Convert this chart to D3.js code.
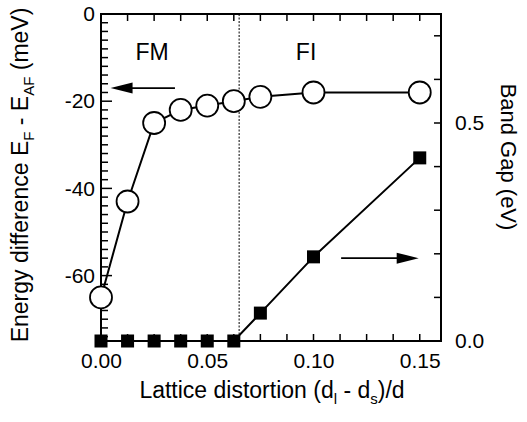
<!DOCTYPE html>
<html>
<head>
<meta charset="utf-8">
<script src="https://cdn.jsdelivr.net/npm/d3@7"></script>
<style>
  body { margin: 0; background: #fff; }
  text { font-family: "Liberation Sans", Arial, sans-serif; fill: #000; }
</style>
</head>
<body>
<div id="plot"></div>
<script>
// lattice distortion values
let distortion = [0, 0.0125, 0.025, 0.0375, 0.05, 0.0625, 0.075, 0.1, 0.15];
// E_F - E_AF (meV), open circles
let energyDiff = [-65, -43, -25, -22, -21, -20, -19, -18, -18];
// band gap (eV), filled squares
let bandGap = [0, 0, 0, 0, 0, 0, 0.064, 0.193, 0.42];

let xTicks = [0, 0.05, 0.10, 0.15];
let yLeftTicks = [0, -20, -40, -60];
let yRightTicks = [0, 0.5];
let boundary = 0.065;

let svgWidth = 527, svgHeight = 422;
let margin = { top: 14, right: 86, bottom: 81, left: 101 };
let width = svgWidth - margin.left - margin.right;
let height = svgHeight - margin.top - margin.bottom;

let x = d3.scaleLinear().domain([0, 0.16]).range([0, width]);
let yL = d3.scaleLinear().domain([-75, 0]).range([height, 0]);
let yR = d3.scaleLinear().domain([0, 0.75]).range([height, 0]);

let svg = d3.select('#plot')
  .append('svg')
    .attr('width', svgWidth)
    .attr('height', svgHeight)
  .append('g')
    .attr('transform', `translate(${margin.left},${margin.top})`);

// plain hyphen for negatives, like the original
let hyphen = f => (d => f(d).replace('\u2212', '-'));

// ticks (all pointing inward)
let tickLen = 7;
let minorX = d3.range(0, 0.16 + 1e-9, 0.0125);
let minorL = d3.range(-74, 0.001, 2);
let minorR = d3.range(0, 0.75, 0.1);

let axX = d3.axisBottom(x).tickValues(xTicks).tickFormat(d3.format('.2f')).tickSize(0).tickPadding(12);
let gx = svg.append('g').attr('transform', `translate(0,${height})`).call(axX);
gx.select('.domain').remove();
gx.selectAll('text').style('font-size', '21px');

let axL = d3.axisLeft(yL).tickValues(yLeftTicks).tickFormat(hyphen(d3.format('d'))).tickSize(0).tickPadding(6);
let gl = svg.append('g').call(axL);
gl.select('.domain').remove();
gl.selectAll('text').style('font-size', '21px');

let axR = d3.axisRight(yR).tickValues(yRightTicks).tickFormat(d3.format('.1f')).tickSize(0).tickPadding(14);
let gr = svg.append('g').attr('transform', `translate(${width},0)`).call(axR);
gr.select('.domain').remove();
gr.selectAll('text').style('font-size', '21px');

let ticks = svg.append('g').attr('stroke', '#000').attr('stroke-width', 1.5);
minorX.forEach(function(v) {
  ticks.append('line').attr('x1', x(v)).attr('x2', x(v)).attr('y1', height).attr('y2', height - tickLen);
  ticks.append('line').attr('x1', x(v)).attr('x2', x(v)).attr('y1', 0).attr('y2', tickLen);
});
minorL.forEach(function(v) {
  let len = (v % 20 === 0) ? 11 : tickLen;
  ticks.append('line').attr('x1', 0).attr('x2', len).attr('y1', yL(v)).attr('y2', yL(v));
});
minorR.forEach(function(v) {
  ticks.append('line').attr('x1', width).attr('x2', width - tickLen).attr('y1', yR(v)).attr('y2', yR(v));
});

// frame
svg.append('rect')
  .attr('width', width).attr('height', height)
  .attr('fill', 'none').attr('stroke', '#000').attr('stroke-width', 2);

// phase boundary
svg.append('line')
  .attr('x1', x(boundary)).attr('x2', x(boundary))
  .attr('y1', 0).attr('y2', height)
  .attr('stroke', '#000').attr('stroke-width', 1)
  .attr('stroke-dasharray', '2,1.5');

let energyData = distortion.map((d, i) => ({ x: d, y: energyDiff[i] }));
let gapData = distortion.map((d, i) => ({ x: d, y: bandGap[i] }));

// band gap line + squares
svg.append('path')
  .datum(gapData)
  .attr('fill', 'none').attr('stroke', '#000').attr('stroke-width', 2)
  .attr('d', d3.line().x(d => x(d.x)).y(d => yR(d.y)));

svg.selectAll('rect.sq')
  .data(gapData)
  .enter()
    .append('rect')
    .attr('class', 'sq')
    .attr('x', d => x(d.x) - 6.5)
    .attr('y', d => yR(d.y) - 6.5)
    .attr('width', 13).attr('height', 13)
    .attr('fill', '#000');

// energy difference line + circles
svg.append('path')
  .datum(energyData)
  .attr('fill', 'none').attr('stroke', '#000').attr('stroke-width', 2)
  .attr('d', d3.line().x(d => x(d.x)).y(d => yL(d.y)));

svg.selectAll('circle')
  .data(energyData)
  .enter()
    .append('circle')
    .attr('r', 11)
    .attr('cx', d => x(d.x))
    .attr('cy', d => yL(d.y))
    .attr('fill', '#fff').attr('stroke', '#000').attr('stroke-width', 1.8);

// arrows
function arrow(x1, x2, yy) {
  let dir = x2 > x1 ? 1 : -1;
  svg.append('line')
    .attr('x1', x1).attr('x2', x2 - dir * 18).attr('y1', yy).attr('y2', yy)
    .attr('stroke', '#000').attr('stroke-width', 1.8);
  svg.append('path')
    .attr('d', `M${x2},${yy} L${x2 - dir * 22},${yy - 5.5} L${x2 - dir * 22},${yy + 5.5} Z`)
    .attr('fill', '#000');
}
arrow(x(0.0348), x(0.0045), yL(-17));
arrow(x(0.113), x(0.1495), yR(0.19));

// phase labels
svg.append('text').attr('x', x(0.024)).attr('y', yL(-8.7) + 8)
  .attr('text-anchor', 'middle').style('font-size', '23px').text('FM');
svg.append('text').attr('x', x(0.0965)).attr('y', yL(-8.7) + 8)
  .attr('text-anchor', 'middle').style('font-size', '23px').text('FI');

// axis titles
let xt = svg.append('text')
  .attr('x', 171).attr('y', 398 - margin.top)
  .attr('text-anchor', 'middle').style('font-size', '23px');
xt.append('tspan').text('Lattice distortion (d');
xt.append('tspan').attr('dy', 6).style('font-size', '15px').text('l');
xt.append('tspan').attr('dy', -6).text(' - d');
xt.append('tspan').attr('dy', 6).style('font-size', '15px').text('s');
xt.append('tspan').attr('dy', -6).text(')/d');

let lt = svg.append('text')
  .attr('transform', `translate(${28 - margin.left},${175 - margin.top}) rotate(-90)`)
  .attr('text-anchor', 'middle').style('font-size', '23px');
lt.append('tspan').text('Energy difference E');
lt.append('tspan').attr('dy', 6).style('font-size', '15px').text('F');
lt.append('tspan').attr('dy', -6).text(' - E');
lt.append('tspan').attr('dy', 6).style('font-size', '15px').text('AF');
lt.append('tspan').attr('dy', -6).text(' (meV)');

svg.append('text')
  .attr('transform', `translate(${501 - margin.left},${157 - margin.top}) rotate(90)`)
  .attr('text-anchor', 'middle').style('font-size', '22px')
  .text('Band Gap (eV)');
</script>
</body>
</html>
